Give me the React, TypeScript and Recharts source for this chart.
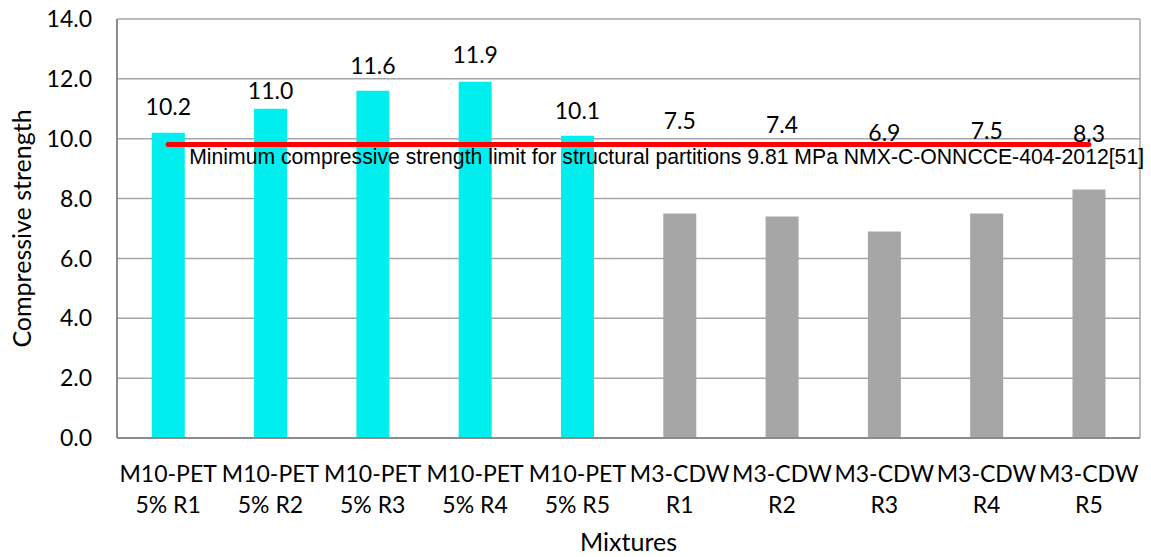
import React from "react";
import {
  ComposedChart,
  Bar,
  Line,
  XAxis,
  YAxis,
  CartesianGrid,
  Cell,
  LabelList,
} from "recharts";

// Mixture names (first word = line 1 of the tick, rest = line 2)
const categories = [
  "M10-PET 5% R1",
  "M10-PET 5% R2",
  "M10-PET 5% R3",
  "M10-PET 5% R4",
  "M10-PET 5% R5",
  "M3-CDW R1",
  "M3-CDW R2",
  "M3-CDW R3",
  "M3-CDW R4",
  "M3-CDW R5",
];

// Compressive strength (MPa) per mixture
const strength = [10.2, 11.0, 11.6, 11.9, 10.1, 7.5, 7.4, 6.9, 7.5, 8.3];

// Normative minimum for structural partitions
const LIMIT = 9.81;
const limitText =
  "Minimum compressive strength limit for structural partitions 9.81 MPa NMX-C-ONNCCE-404-2012[51]";

const yTicks = [0, 2, 4, 6, 8, 10, 12, 14];

const data = categories.map((name, i) => ({
  name,
  strength: strength[i],
  limit: LIMIT,
}));

// Vertical lift (px) of each value label above its bar
const LABEL_LIFT = [27, 19, 26, 28, 26, 94, 93, 99, 84, 57];

const FONT = "Lato, 'Open Sans', sans-serif";
const PET_COLOR = "#00EEEE";
const CDW_COLOR = "#A6A6A6";

const CategoryTick = (props: any) => {
  const { x, y, payload } = props;
  const label: string = payload.value;
  const cut = label.indexOf(" ");
  const first = label.slice(0, cut);
  const second = label.slice(cut + 1);
  return (
    <text x={x} y={y} textAnchor="middle" fontFamily={FONT} fontSize={23} fill="#000">
      <tspan x={x} dy={36}>{first}</tspan>
      <tspan x={x} dy={31}>{second}</tspan>
    </text>
  );
};

const ValueLabel = (props: any) => {
  const { x, y, width, value, index } = props;
  return (
    <text
      x={x + width / 2}
      y={y - LABEL_LIFT[index]}
      textAnchor="middle"
      dominantBaseline="central"
      fontFamily={FONT}
      fontSize={23}
      fill="#000"
    >
      {Number(value).toFixed(1)}
    </text>
  );
};

const LimitLabel = (props: any) => {
  const { x, y, index } = props;
  if (index !== 0) return null;
  return (
    <text
      x={x + 21}
      y={y + 20}
      fontFamily="'Liberation Sans', Arial, sans-serif"
      fontSize={21.2}
      fill="#000"
    >
      {limitText}
    </text>
  );
};

export default function App() {
  return (
    <div style={{ position: "absolute", left: 0, top: 0, background: "#fff" }}>
      <ComposedChart
        width={1151}
        height={557}
        data={data}
        margin={{ top: 19, right: 11, bottom: 0, left: 0 }}
        barCategoryGap="34%"
      >
        <CartesianGrid
          stroke="#a6a6a6"
          strokeWidth={1.5}
          horizontal
          vertical
          verticalCoordinatesGenerator={({ offset }: any) => [
            offset.left,
            offset.left + offset.width,
          ]}
        />
        <XAxis
          dataKey="name"
          height={119}
          tick={<CategoryTick />}
          tickLine={false}
          axisLine={{ stroke: "#8c8c8c", strokeWidth: 2 }}
          interval={0}
          label={{
            value: "Mixtures",
            position: "insideBottom",
            offset: 6,
            style: { fontFamily: FONT, fontSize: 25, fill: "#000" },
          }}
        />
        <YAxis
          width={117}
          domain={[0, 14]}
          ticks={yTicks}
          tickFormatter={(v: number) => v.toFixed(1)}
          tickLine={false}
          tickSize={0}
          tickMargin={25}
          axisLine={{ stroke: "#8c8c8c", strokeWidth: 2 }}
          tick={{ fontFamily: FONT, fontSize: 23, fill: "#000" }}
          label={{
            value: "Compressive strength",
            angle: -90,
            position: "insideLeft",
            offset: 22,
            style: { fontFamily: FONT, fontSize: 25, fill: "#000", textAnchor: "middle" },
          }}
        />
        <Bar dataKey="strength" isAnimationActive={false}>
          {data.map((d) => (
            <Cell key={d.name} fill={d.name.startsWith("M10") ? PET_COLOR : CDW_COLOR} />
          ))}
          <LabelList dataKey="strength" content={<ValueLabel />} />
        </Bar>
        <Line
          dataKey="limit"
          type="linear"
          stroke="#ff0000"
          strokeWidth={5}
          strokeLinecap="round"
          dot={false}
          activeDot={false}
          isAnimationActive={false}
        >
          <LabelList dataKey="limit" content={<LimitLabel />} />
        </Line>
      </ComposedChart>
    </div>
  );
}
